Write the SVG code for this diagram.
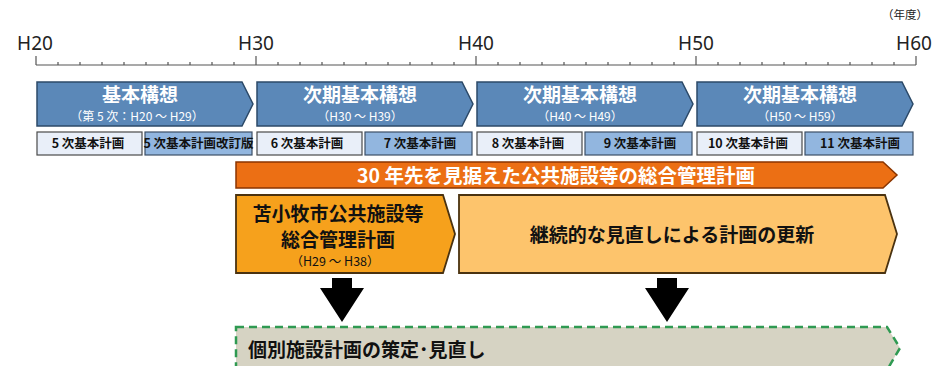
<svg xmlns="http://www.w3.org/2000/svg" width="948" height="366" viewBox="0 0 948 366">
<style>
text{font-family:"Noto Sans CJK JP","Noto Sans",sans-serif;}
.yr{font-family:"Noto Sans","Liberation Sans",sans-serif;font-size:19px;fill:#222;text-anchor:middle;}
.blue{fill:#5b88b8;stroke:#2c4a68;stroke-width:1.5;}
.bt{fill:#fff;font-weight:bold;font-size:19px;text-anchor:middle;}
.bs{fill:#fff;font-size:12px;text-anchor:middle;}
.pl{fill:#e9eff9;stroke:#4a4a4a;stroke-width:1.2;}
.pd{fill:#92b6df;stroke:#3c4f66;stroke-width:1.2;}
.pt{fill:#111;font-weight:bold;font-size:12.5px;text-anchor:middle;}
.tick{stroke:#555;stroke-width:1.2;}
.big{font-weight:bold;font-size:19px;text-anchor:middle;fill:#111;}
</style>
<defs>
<path id="barrow" d="M-10,0 H10 V10 H22 L0,44 L-22,10 H-10 Z" fill="#000"/>
</defs>

<g id="timeline">
<text x="905" y="19" font-size="11.5" fill="#222" text-anchor="middle">（年度）</text>
<text class="yr" x="35" y="50">H20</text>
<text class="yr" x="256" y="50">H30</text>
<text class="yr" x="476" y="50">H40</text>
<text class="yr" x="696" y="50">H50</text>
<text class="yr" x="914" y="50">H60</text>
<line class="tick" x1="36" y1="65" x2="916" y2="65"/>
<path class="tick" fill="none" d="M36,56V65M256,56V65M476,56V65M696,56V65M916,56V65
M58,62V65M80,62V65M102,62V65M124,62V65M146,62V65M168,62V65M190,62V65M212,62V65M234,62V65
M278,62V65M300,62V65M322,62V65M344,62V65M366,62V65M388,62V65M410,62V65M432,62V65M454,62V65
M498,62V65M520,62V65M542,62V65M564,62V65M586,62V65M608,62V65M630,62V65M652,62V65M674,62V65
M718,62V65M740,62V65M762,62V65M784,62V65M806,62V65M828,62V65M850,62V65M872,62V65M894,62V65"/>
</g>

<g id="kihon-koso">
<path class="blue" d="M37,82 H242 L253,104 L242,126 H37 Z"/>
<text class="bt" x="140" y="101.5">基本構想</text>
<text class="bs" x="137" y="121">（第 5 次：H20 ～ H29）</text>
</g>
<g id="jiki-h30">
<path class="blue" d="M257,82 H462 L473,104 L462,126 H257 Z"/>
<text class="bt" x="360" y="101.5">次期基本構想</text>
<text class="bs" x="360" y="121">（H30 ～ H39）</text>
</g>
<g id="jiki-h40">
<path class="blue" d="M477,82 H682 L693,104 L682,126 H477 Z"/>
<text class="bt" x="580" y="101.5">次期基本構想</text>
<text class="bs" x="580" y="121">（H40 ～ H49）</text>
</g>
<g id="jiki-h50">
<path class="blue" d="M697,82 H902 L913,104 L902,126 H697 Z"/>
<text class="bt" x="800" y="101.5">次期基本構想</text>
<text class="bs" x="800" y="121">（H50 ～ H59）</text>
</g>

<g id="plan5"><rect class="pl" x="37" y="132" width="105" height="23"/><text class="pt" x="88" y="148">5 次基本計画</text></g>
<g id="plan5r"><rect class="pd" x="145" y="132" width="107" height="23"/><text class="pt" x="198.5" y="148" font-size="11.5">5 次基本計画改訂版</text></g>
<g id="plan6"><rect class="pl" x="257" y="132" width="105" height="23"/><text class="pt" x="307" y="148">6 次基本計画</text></g>
<g id="plan7"><rect class="pd" x="365" y="132" width="107" height="23"/><text class="pt" x="420" y="148">7 次基本計画</text></g>
<g id="plan8"><rect class="pl" x="477" y="132" width="105" height="23"/><text class="pt" x="528" y="148">8 次基本計画</text></g>
<g id="plan9"><rect class="pd" x="585" y="132" width="107" height="23"/><text class="pt" x="640" y="148">9 次基本計画</text></g>
<g id="plan10"><rect class="pl" x="697" y="132" width="105" height="23"/><text class="pt" x="748" y="148">10 次基本計画</text></g>
<g id="plan11"><rect class="pd" x="805" y="132" width="108" height="23"/><text class="pt" x="860" y="148">11 次基本計画</text></g>

<g id="sogo-bar">
<path d="M236,162 H883 L897,175 L883,188 H236 Z" fill="#ec6f14" stroke="#8a3500" stroke-width="1.5"/>
<text x="556" y="182.5" font-size="19.5" font-weight="bold" fill="#fff" text-anchor="middle">30 年先を見据えた公共施設等の総合管理計画</text>
</g>

<g id="tomakomai">
<path d="M236,195 H443 L455,234 L443,273 H236 Z" fill="#f6a11c" stroke="#4a3210" stroke-width="1.8"/>
<text class="big" x="338" y="221">苫小牧市公共施設等</text>
<text class="big" x="338" y="247">総合管理計画</text>
<text x="335" y="266" font-size="12.5" fill="#111" text-anchor="middle">（H29 ～ H38）</text>
</g>

<g id="keizoku">
<path d="M459,195 H885 L897,234 L885,273 H459 Z" fill="#fdc46c" stroke="#4a3210" stroke-width="1.8"/>
<text class="big" x="672" y="242">継続的な見直しによる計画の更新</text>
</g>

<g id="connectors">
<use href="#barrow" x="342" y="278"/>
<use href="#barrow" x="667" y="278"/>
</g>

<g id="kobetsu">
<path d="M236,327 H887 L900,348 L887,370 H236 Z" fill="#d6d3c3" stroke="#2f9a52" stroke-width="2.5" stroke-dasharray="8,5"/>
<text x="248" y="357" font-size="19" font-weight="bold" fill="#111">個別施設計画の策定･見直し</text>
</g>
</svg>
